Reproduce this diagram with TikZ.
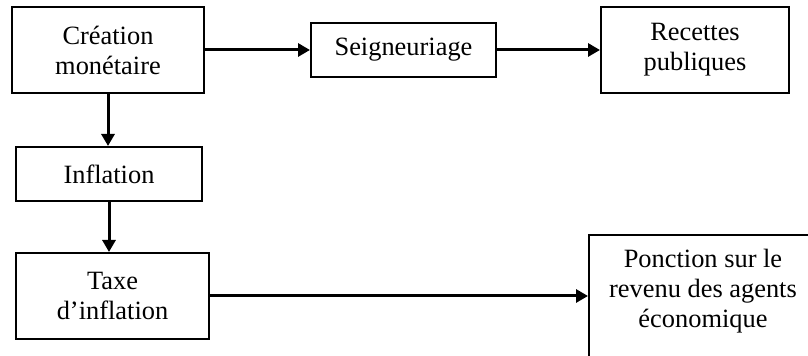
\documentclass[tikz,border=0pt]{standalone}
\usepackage{fontspec}
\setmainfont{Liberation Serif}
\usetikzlibrary{arrows.meta}
\begin{document}
\begin{tikzpicture}[x=0.5pt,y=-0.5pt,
    bloc/.style={draw,line width=1pt,align=center,inner sep=0pt,font=\fontsize{13.2}{15}\selectfont},
    fleche/.style={line width=1.5pt,-{Triangle[length=6pt,width=6.5pt]}}]
    \useasboundingbox (0,0) rectangle (808,356);
    \node[bloc,minimum width=96pt,minimum height=43pt] (crea) at (108,50) {Création\\monétaire};
    \node[bloc,minimum width=92.5pt,minimum height=27pt] (seig) at (403.5,50) {Seigneuriage};
    \node[bloc,minimum width=94pt,minimum height=43pt] (rece) at (695,50) {Recettes\\publiques};
    \node[bloc,minimum width=93pt,minimum height=27pt] (infl) at (109,174) {Inflation};
    \node[bloc,minimum width=96.5pt,minimum height=43pt] (taxe) at (112.5,296) {Taxe\\d’inflation};
    \node[bloc,minimum width=114pt,minimum height=63pt,text depth=10pt] (ponc) at (703,298) {Ponction sur le\\revenu des agents\\économique};
    \draw[fleche] (crea.east) -- (seig.west);
    \draw[fleche] (seig.east) -- (rece.west);
    \draw[fleche] (crea.south) -- (crea.south |- infl.north);
    \draw[fleche] (infl.south) -- (infl.south |- taxe.north);
    \draw[fleche] (taxe.east) -- (taxe.east -| ponc.west);
\end{tikzpicture}
\end{document}
